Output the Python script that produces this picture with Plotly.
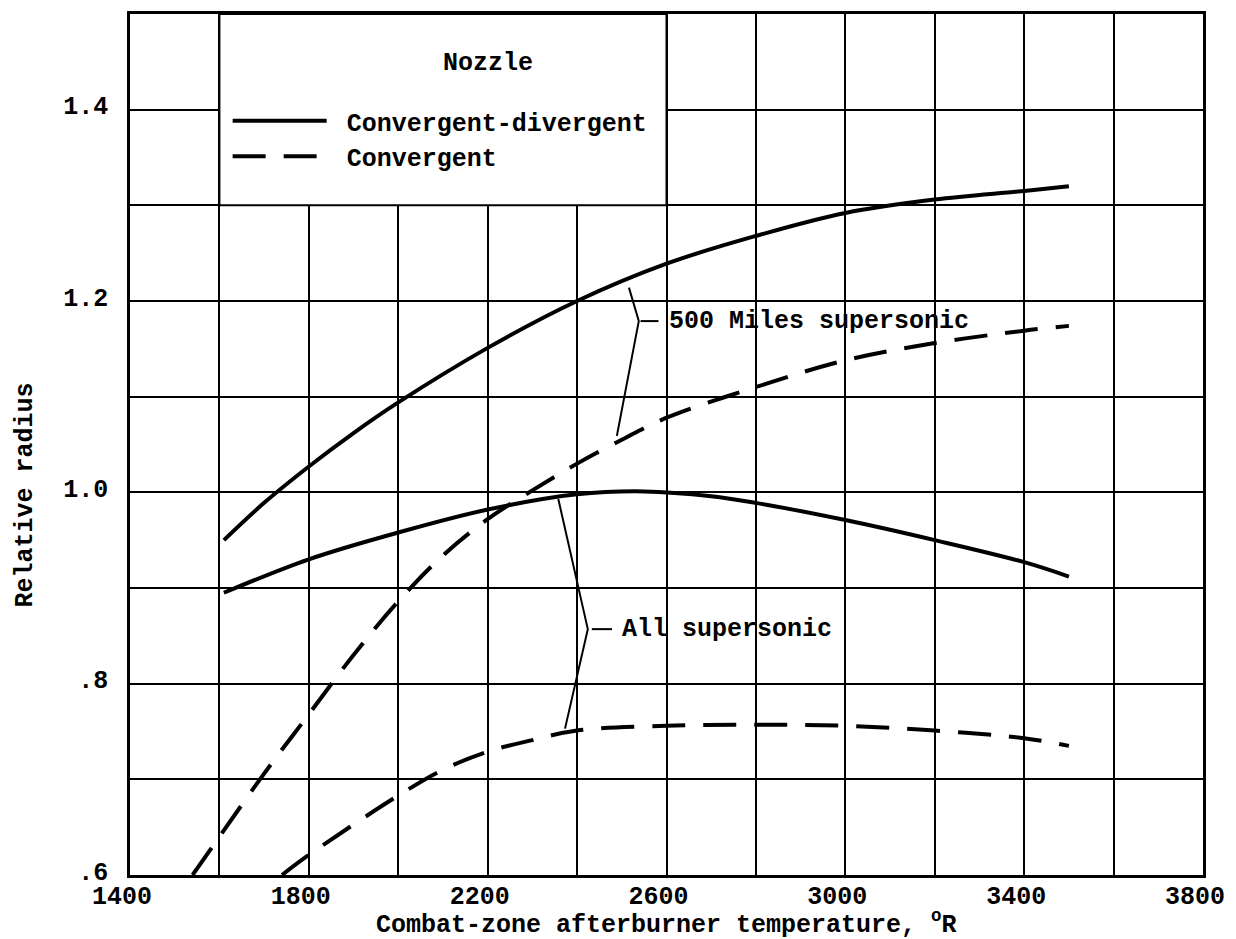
import plotly.graph_objects as go

# ---- data ----
cd_500_x = [1610, 1700, 1800, 1900, 2000, 2200, 2400, 2600, 2800, 3000, 3200, 3400, 3500]
cd_500_y = [0.950, 0.989, 1.027, 1.062, 1.094, 1.151, 1.200, 1.239, 1.268, 1.292, 1.306, 1.315, 1.320]

cd_all_x = [1610, 1800, 2000, 2200, 2400, 2550, 2700, 2800, 3000, 3200, 3400, 3500]
cd_all_y = [0.895, 0.930, 0.958, 0.982, 0.998, 1.001, 0.996, 0.989, 0.971, 0.950, 0.927, 0.912]

c_500_x = [1540, 1600, 1700, 1800, 1900, 2000, 2100, 2200, 2300, 2400, 2500, 2600, 2800, 3000, 3200, 3400, 3500]
c_500_y = [0.600, 0.640, 0.706, 0.768, 0.830, 0.886, 0.934, 0.972, 1.002, 1.030, 1.055, 1.078, 1.110, 1.138, 1.156, 1.169, 1.174]

c_all_x = [1740, 1800, 2000, 2100, 2200, 2300, 2400, 2600, 2800, 3000, 3200, 3400, 3500]
c_all_y = [0.600, 0.621, 0.683, 0.710, 0.729, 0.741, 0.751, 0.756, 0.757, 0.756, 0.751, 0.743, 0.735]

x_tick_vals = list(range(1400, 3801, 200))
x_tick_text = ["1400", "", "1800", "", "2200", "", "2600", "", "3000", "", "3400", "", "3800"]
y_tick_vals = [0.6, 0.7, 0.8, 0.9, 1.0, 1.1, 1.2, 1.3, 1.4, 1.5]
y_tick_text = [".6", "", ".8", "", "1.0", "", "1.2", "", "1.4", ""]

legend_names = ["Convergent-divergent", "Convergent"]
legend_title = "Nozzle"

label_500 = "500 Miles supersonic"
label_all = "All supersonic"
# leader (bracket) lines for the labels
br500_x = [2516, 2538, 2489]
br500_y = [1.214, 1.179, 1.059]
br500_tick_x = [2542, 2582]
br500_tick_y = [1.179, 1.179]
brall_x = [2358, 2424, 2373]
brall_y = [0.993, 0.857, 0.753]
brall_tick_x = [2433, 2478]
brall_tick_y = [0.857, 0.857]

FONT = "Liberation Mono, DejaVu Sans Mono, monospace"
FS = 25
TXT = dict(family=FONT, size=FS, color="black", weight="bold")

fig = go.Figure()

fig.add_trace(go.Scatter(x=cd_500_x, y=cd_500_y, mode="lines", line=dict(color="black", width=4, shape="spline"),
                         name="\u00a0" + legend_names[0], showlegend=True, legendrank=1))
fig.add_trace(go.Scatter(x=cd_all_x, y=cd_all_y, mode="lines", line=dict(color="black", width=4, shape="spline"),
                         showlegend=False))
fig.add_trace(go.Scatter(x=c_500_x, y=c_500_y, mode="lines",
                         line=dict(color="black", width=4, shape="spline", dash="33px,18px"),
                         name="\u00a0" + legend_names[1], showlegend=True, legendrank=2))
fig.add_trace(go.Scatter(x=c_all_x, y=c_all_y, mode="lines",
                         line=dict(color="black", width=4, shape="spline", dash="33px,18px"),
                         showlegend=False))

for bx, by in [(br500_x, br500_y), (br500_tick_x, br500_tick_y), (brall_x, brall_y), (brall_tick_x, brall_tick_y)]:
    fig.add_trace(go.Scatter(x=bx, y=by, mode="lines", line=dict(color="black", width=2),
                             showlegend=False, hoverinfo="skip"))

# blank box behind the legend (covers the grid there)
fig.add_shape(type="rect", xref="x", yref="y", x0=1600, x1=2600, y0=1.3, y1=1.5,
              fillcolor="white", line=dict(color="black", width=2), layer="between")

fig.add_annotation(x=2200, y=1.448, xref="x", yref="y", text=legend_title, showarrow=False, font=TXT)
fig.add_annotation(x=2600, y=1.179, xref="x", yref="y", text=label_500, showarrow=False,
                   xanchor="left", font=TXT)
fig.add_annotation(x=2496, y=0.857, xref="x", yref="y", text=label_all, showarrow=False,
                   xanchor="left", font=TXT)

fig.add_annotation(x=0.5, y=-0.0555, xref="paper", yref="paper",
                   text="Combat-zone afterburner temperature, <sup>o</sup>R", showarrow=False,
                   yanchor="middle", font=TXT)
fig.add_annotation(x=-0.113, y=0.441, xref="paper", yref="paper", text="Relative radius",
                   textangle=-90, showarrow=False, font=TXT)

axis_common = dict(showline=True, linecolor="black", linewidth=2.5, mirror=True,
                   showgrid=True, gridcolor="black", gridwidth=2, zeroline=False, ticks="",
                   tickfont=TXT)

fig.update_xaxes(range=[1400, 3800], tickmode="array", tickvals=x_tick_vals, ticktext=x_tick_text,
                 ticklabelshift=-8, ticklabelstandoff=-4, **axis_common)
fig.update_yaxes(range=[0.6, 1.5], tickmode="array", tickvals=y_tick_vals, ticktext=y_tick_text,
                 ticklabelstandoff=14, ticklabelshift=-4, **axis_common)

fig.update_layout(
    width=1236, height=939,
    margin=dict(l=130, r=29, t=11, b=64),
    plot_bgcolor="white", paper_bgcolor="white",
    font=TXT,
    showlegend=True,
    legend=dict(x=0.091, y=0.9024, xanchor="left", yanchor="top", bgcolor="rgba(0,0,0,0)",
                itemwidth=94, font=TXT, tracegroupgap=0, borderwidth=0),
)

fig.write_html("out.html")
